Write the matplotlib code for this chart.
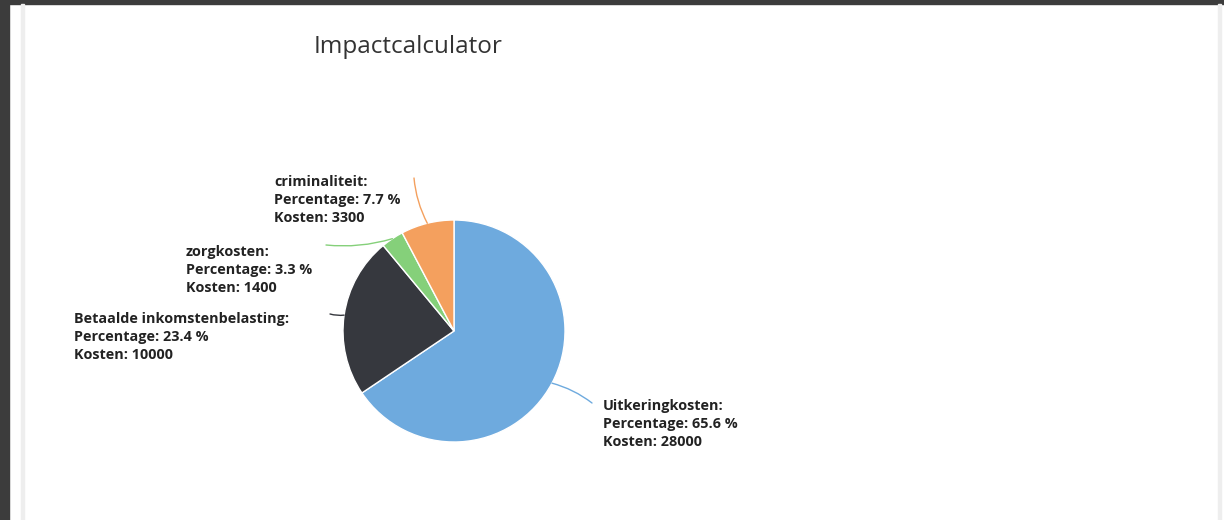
import matplotlib.pyplot as plt
from matplotlib.patches import Rectangle
import numpy as np

plt.rcParams['font.family'] = ['Open Sans', 'DejaVu Sans']

title = "Impactcalculator"
categories = ["Uitkeringkosten", "Betaalde inkomstenbelasting", "zorgkosten", "criminaliteit"]
kosten = [28000, 10000, 1400, 3300]
percentages = [65.6, 23.4, 3.3, 7.7]
colors = ["#6eaade", "#36383e", "#85d07a", "#f4a05e"]

W, H = 1224, 520

# label placement in pixels (x left, y of first line) and connector end near the label
label_pos = [(603, 406), (74, 319), (186, 252), (274, 182)]
conn_end = [(592, 403), (330, 314), (326, 245), (414, 178)]

fig = plt.figure(figsize=(W / 100, H / 100), dpi=100)
fig.patch.set_facecolor("white")
ax = fig.add_axes([0, 0, 1, 1])

# screenshot frame
ax.add_patch(Rectangle((0, 0), 9, H, color="#3c3c3c", zorder=0))
ax.add_patch(Rectangle((0, 0), W, 4, color="#3c3c3c", zorder=0))
ax.add_patch(Rectangle((21, 4), 3, H, color="#eeeeee", zorder=0))
ax.add_patch(Rectangle((1218, 4), 3, H, color="#eeeeee", zorder=0))

cx, cy, r = 454, 331, 111
# y axis is inverted, so counterclock=True draws clockwise on screen
wedges, _ = ax.pie(kosten, colors=colors, startangle=-90, counterclock=True,
                   center=(cx, cy), radius=r, frame=True,
                   wedgeprops=dict(edgecolor="white", linewidth=1))
ax.set_xlim(0, W)
ax.set_ylim(H, 0)
ax.set_aspect("equal")
ax.axis("off")

for i, w in enumerate(wedges):
    mid = np.deg2rad((w.theta1 + w.theta2) / 2)
    px, py = cx + r * np.cos(mid), cy + r * np.sin(mid)
    ex, ey = conn_end[i]
    ax.annotate("", xy=(px, py), xytext=(ex, ey),
                arrowprops=dict(arrowstyle="-", color=colors[i], lw=1,
                                shrinkA=0, shrinkB=0,
                                connectionstyle="arc3,rad=0.1"))
    lx, ly = label_pos[i]
    txt = f"{categories[i]}:\nPercentage: {percentages[i]} %\nKosten: {kosten[i]}"
    ax.text(lx, ly - 7, txt, ha="left", va="top", fontsize=10.4, fontweight="bold",
            color="#222222", linespacing=1.38)

ax.text(408, 47, title, ha="center", va="center", fontsize=17.5, color="#333333")

fig.savefig("out.png", dpi=100)
